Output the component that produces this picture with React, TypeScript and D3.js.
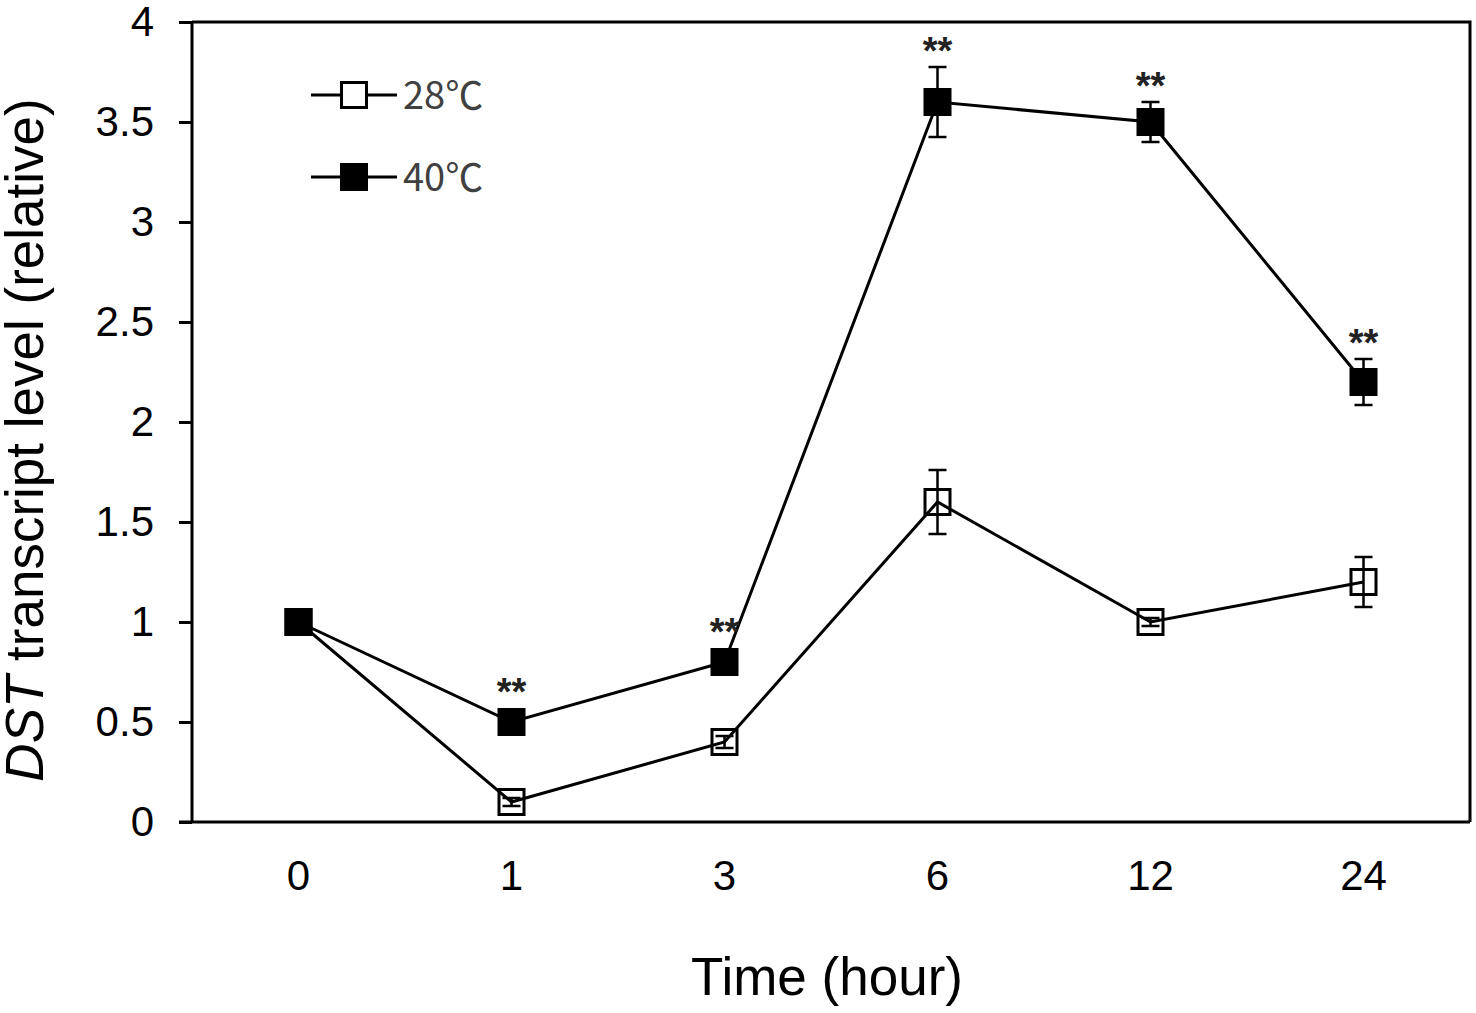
import { useEffect, useRef } from "react";
import * as d3 from "d3";

const hours = ["0", "1", "3", "6", "12", "24"];
const mean28 = [1.0, 0.1, 0.4, 1.6, 1.0, 1.2];
const err28 = [0, 0.02, 0.03, 0.16, 0.02, 0.125];
const mean40 = [1.0, 0.5, 0.8, 3.6, 3.5, 2.2];
const err40 = [0, 0.02, 0.03, 0.175, 0.1, 0.115];
const signif40 = [false, true, true, true, true, true];
const yTicks = [0, 0.5, 1, 1.5, 2, 2.5, 3, 3.5, 4];
const seriesNames = ["28℃", "40℃"];

const drawChart = (svgEl: SVGSVGElement) => {
  const width = 1476;
  const height = 1013;
  const marginTop = 22;
  const marginRight = 6;
  const marginBottom = 191;
  const marginLeft = 192;

  const svg = d3.select(svgEl);
  svg.selectAll("*").remove();
  svg.attr("width", width).attr("height", height).attr("viewBox", [0, 0, width, height]);

  const x = d3.scaleBand()
    .domain(hours)
    .range([marginLeft, width - marginRight]);

  const y = d3.scaleLinear()
    .domain([0, 4])
    .range([height - marginBottom, marginTop]);

  const cx = (h: string) => (x(h) as number) + x.bandwidth() / 2;

  // frame (top and right)
  svg.append("path")
    .attr("d", `M${marginLeft},${marginTop}H${width - marginRight}V${height - marginBottom}`)
    .attr("fill", "none")
    .attr("stroke", "#000")
    .attr("stroke-width", 3);

  // y axis
  svg.append("g")
    .attr("transform", `translate(${marginLeft},0)`)
    .call(d3.axisLeft(y).tickValues(yTicks).tickSize(13).tickPadding(25).tickFormat((d) => `${d}`))
    .call(g => g.select(".domain").attr("stroke-width", 3).attr("d", `M0,${y(4)}V${y(0)}`))
    .call(g => g.selectAll(".tick line").attr("stroke-width", 3))
    .call(g => g.selectAll(".tick text")
      .attr("font-family", "'Liberation Sans', Arial, sans-serif")
      .attr("font-size", 42)
      .attr("fill", "#000"));

  // x axis
  svg.append("g")
    .attr("transform", `translate(0,${height - marginBottom})`)
    .call(d3.axisBottom(x).tickSize(0).tickPadding(38))
    .call(g => g.select(".domain").attr("stroke-width", 3).attr("d", `M${marginLeft - 13},0H${width - marginRight}`))
    .call(g => g.selectAll(".tick text")
      .attr("font-family", "'Liberation Sans', Arial, sans-serif")
      .attr("font-size", 42)
      .attr("fill", "#000"));

  // axis titles
  svg.append("text")
    .attr("x", 827)
    .attr("y", 995)
    .attr("text-anchor", "middle")
    .attr("font-family", "'Liberation Sans', Arial, sans-serif")
    .attr("font-size", 53)
    .text("Time (hour)");

  const yTitle = svg.append("text")
    .attr("transform", `translate(43,440) rotate(-90)`)
    .attr("text-anchor", "middle")
    .attr("font-family", "'Liberation Sans', Arial, sans-serif")
    .attr("font-size", 53);
  yTitle.append("tspan").attr("font-style", "italic").text("DST");
  yTitle.append("tspan").text(" transcript level (relative)");

  const line = d3.line<number>()
    .x((_, i) => cx(hours[i]))
    .y((d) => y(d));

  const series = [
    { mean: mean28, err: err28, fill: "none" },
    { mean: mean40, err: err40, fill: "#000" },
  ];

  const size = 25;

  series.forEach((s) => {
    svg.append("path")
      .datum(s.mean)
      .attr("d", line)
      .attr("fill", "none")
      .attr("stroke", "#000")
      .attr("stroke-width", 3);

    const eb = svg.append("g").attr("stroke", "#000").attr("stroke-width", 2.5);
    s.mean.forEach((m, i) => {
      if (!s.err[i]) return;
      const px = cx(hours[i]);
      eb.append("line").attr("x1", px).attr("x2", px).attr("y1", y(m - s.err[i])).attr("y2", y(m + s.err[i]));
      eb.append("line").attr("x1", px - 9).attr("x2", px + 9).attr("y1", y(m - s.err[i])).attr("y2", y(m - s.err[i]));
      eb.append("line").attr("x1", px - 9).attr("x2", px + 9).attr("y1", y(m + s.err[i])).attr("y2", y(m + s.err[i]));
    });

    svg.append("g")
      .selectAll("rect")
      .data(s.mean)
      .join("rect")
      .attr("x", (_, i) => cx(hours[i]) - size / 2)
      .attr("y", (d) => y(d) - size / 2)
      .attr("width", size)
      .attr("height", size)
      .attr("fill", s.fill)
      .attr("stroke", "#000")
      .attr("stroke-width", 3);
  });

  // significance marks
  const starData = mean40
    .map((m, i) => ({ h: hours[i], top: m + err40[i], m, sig: signif40[i] }))
    .filter((d) => d.sig);

  svg.append("g")
    .selectAll("text")
    .data(starData)
    .join("text")
    .attr("x", (d) => cx(d.h))
    .attr("y", (d) => Math.min(y(d.top), y(d.m) - 14) - 3)
    .attr("text-anchor", "middle")
    .attr("font-family", "'Liberation Sans', Arial, sans-serif")
    .attr("font-weight", "bold")
    .attr("font-size", 38)
    .attr("fill", "#222")
    .text("**");

  // legend
  const legendRows = [95, 177];
  seriesNames.forEach((name, i) => {
    const g = svg.append("g").attr("transform", `translate(0,${legendRows[i]})`);
    g.append("line").attr("x1", 311).attr("x2", 397).attr("y1", 0).attr("y2", 0)
      .attr("stroke", "#000").attr("stroke-width", 3);
    g.append("rect").attr("x", 354 - size / 2).attr("y", -size / 2)
      .attr("width", size).attr("height", size)
      .attr("fill", i === 0 ? "#fff" : "#000")
      .attr("stroke", "#000").attr("stroke-width", 3);
    g.append("text").attr("x", 403).attr("y", 14)
      .attr("font-family", "'Noto Sans CJK KR', 'Noto Sans', sans-serif")
      .attr("font-size", 38)
      .attr("fill", "#404040")
      .text(name);
  });
};

export default function App() {
  const ref = useRef<SVGSVGElement>(null);
  useEffect(() => {
    if (ref.current) drawChart(ref.current);
  }, []);
  return (
    <svg ref={ref} style={{ position: "absolute", left: 0, top: 0, background: "#fff" }} />
  );
}
